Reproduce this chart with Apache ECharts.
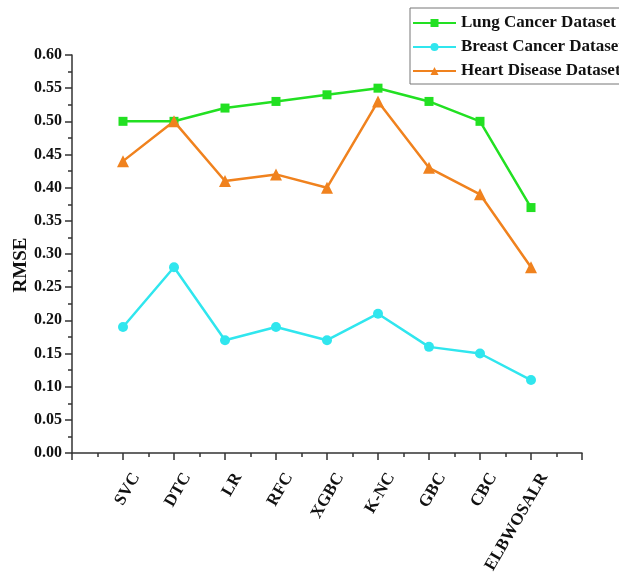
<!DOCTYPE html>
<html>
<head>
<meta charset="utf-8">
<script src="https://cdn.jsdelivr.net/npm/echarts@6/dist/echarts.min.js"></script>
<style>
  html, body { margin: 0; padding: 0; background: #fff; }
  #chart { width: 619px; height: 577px; }
</style>
</head>
<body>
<div id="chart"></div>
<script>
// Models compared, plotted at positions 1..9 on the x axis
const models = ['SVC', 'DTC', 'LR', 'RFC', 'XGBC', 'K-NC', 'GBC', 'CBC', 'ELBWOSALR'];

// RMSE per model for each dataset
const lungRmse   = [0.50, 0.50, 0.52, 0.53, 0.54, 0.55, 0.53, 0.50, 0.37];
const breastRmse = [0.19, 0.28, 0.17, 0.19, 0.17, 0.21, 0.16, 0.15, 0.11];
const heartRmse  = [0.44, 0.50, 0.41, 0.42, 0.40, 0.53, 0.43, 0.39, 0.28];

const seriesNames = ['Lung Cancer Dataset', 'Breast Cancer Dataset', 'Heart Disease Dataset'];

const serif = '"Liberation Serif", "Times New Roman", serif';
const axisColor = '#333';

function toPoints(values) {
  return values.map((v, i) => [i + 1, v]);
}

function lineSeries(name, values, color, symbol, size) {
  return {
    name: name,
    type: 'line',
    data: toPoints(values),
    symbol: symbol,
    symbolSize: size,
    lineStyle: { color: color, width: 2.5 },
    itemStyle: { color: color },
    z: 3
  };
}

const chart = echarts.init(document.getElementById('chart'), null, { renderer: 'canvas' });

chart.setOption({
  backgroundColor: '#fff',
  animation: false,
  grid: { left: 72, right: 37, top: 55, bottom: 124, outerBoundsMode: 'none', containLabel: false },
  legend: {
    orient: 'vertical',
    left: 410,
    top: 8,
    data: seriesNames,
    itemWidth: 43,
    itemHeight: 10,
    itemGap: 7,
    padding: [6.5, 8, 4.5, 2],
    borderColor: '#777',
    borderWidth: 1,
    textStyle: { fontFamily: serif, fontWeight: 'bold', fontSize: 17, color: '#111' }
  },
  xAxis: {
    type: 'value',
    min: 0,
    max: 10,
    interval: 1,
    splitLine: { show: false },
    axisLine: { show: true, onZero: false, lineStyle: { color: axisColor, width: 1.5 } },
    axisTick: { show: true, inside: false, length: 7, lineStyle: { color: axisColor, width: 1.5 } },
    minorTick: { show: true, splitNumber: 2, length: 4, lineStyle: { color: axisColor, width: 1.5 } },
    axisLabel: {
      rotate: 60,
      margin: 14,
      align: 'right',
      verticalAlign: 'top',
      lineHeight: 30,
      fontFamily: serif,
      fontWeight: 'bold',
      fontSize: 17,
      color: '#111',
      formatter: function (v) {
        return (v >= 1 && v <= models.length) ? models[v - 1] : '';
      }
    }
  },
  yAxis: {
    type: 'value',
    min: 0,
    max: 0.6,
    interval: 0.05,
    name: 'RMSE',
    nameLocation: 'middle',
    nameGap: 41,
    nameMoveOverlap: false,
    nameTextStyle: { fontFamily: serif, fontWeight: 'bold', fontSize: 19, color: '#111', padding: [0, 22, 0, 0] },
    splitLine: { show: false },
    axisLine: { show: true, lineStyle: { color: axisColor, width: 1.5 } },
    axisTick: { show: true, inside: false, length: 7, lineStyle: { color: axisColor, width: 1.5 } },
    minorTick: { show: true, splitNumber: 2, length: 4, lineStyle: { color: axisColor, width: 1.5 } },
    axisLabel: {
      margin: 10,
      fontFamily: serif,
      fontWeight: 'bold',
      fontSize: 16,
      color: '#111',
      formatter: function (v) { return v.toFixed(2); }
    }
  },
  series: [
    lineSeries(seriesNames[0], lungRmse, '#22e022', 'rect', 9),
    lineSeries(seriesNames[1], breastRmse, '#30e6ee', 'circle', 10),
    lineSeries(seriesNames[2], heartRmse, '#f0821e', 'triangle', 12)
  ]
});
</script>
</body>
</html>
